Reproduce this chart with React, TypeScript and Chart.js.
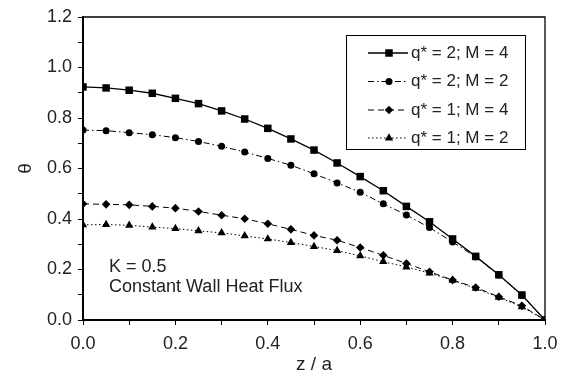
import React, { useEffect, useRef } from "react";
import { Chart, registerables } from "chart.js";

Chart.register(...registerables);

const zValues = [0, 0.05, 0.1, 0.15, 0.2, 0.25, 0.3, 0.35, 0.4, 0.45, 0.5, 0.55, 0.6, 0.65, 0.7, 0.75, 0.8, 0.85, 0.9, 0.95, 1.0];

const seriesQ2M4 = [0.923, 0.919, 0.910, 0.898, 0.878, 0.857, 0.828, 0.796, 0.759, 0.717, 0.673, 0.622, 0.568, 0.512, 0.450, 0.389, 0.321, 0.252, 0.179, 0.099, 0.0];
const seriesQ2M2 = [0.752, 0.750, 0.742, 0.734, 0.722, 0.707, 0.688, 0.665, 0.640, 0.613, 0.579, 0.543, 0.506, 0.460, 0.416, 0.366, 0.309, 0.250, 0.178, 0.097, 0.0];
const seriesQ1M4 = [0.460, 0.458, 0.456, 0.450, 0.443, 0.430, 0.415, 0.401, 0.381, 0.359, 0.335, 0.316, 0.287, 0.256, 0.224, 0.191, 0.158, 0.129, 0.092, 0.056, 0.0];
const seriesQ1M2 = [0.377, 0.378, 0.375, 0.368, 0.362, 0.353, 0.345, 0.333, 0.321, 0.307, 0.291, 0.275, 0.254, 0.231, 0.210, 0.186, 0.157, 0.125, 0.090, 0.052, 0.0];

const seriesLabels = ["q* = 2; M = 4", "q* = 2; M = 2", "q* = 1; M = 4", "q* = 1; M = 2"];
const xTickLabels = ["0.0", "0.2", "0.4", "0.6", "0.8", "1.0"];
const yTickLabels = ["0.0", "0.2", "0.4", "0.6", "0.8", "1.0", "1.2"];
const annotationLines = ["K = 0.5", "Constant Wall Heat Flux"];

const FONT = "'Liberation Sans', Arial, sans-serif";
const TEXT = "#222";

const styles = [
  { dash: [] as number[], point: "rect", radius: 5.3, width: 1.3 },
  { dash: [6, 3, 1.5, 3], point: "circle", radius: 3.5, width: 1 },
  { dash: [6, 4], point: "rectRot", radius: 4.3, width: 1 },
  { dash: [1.5, 2.5], point: "triangle", radius: 4.8, width: 1 },
];

function drawMarker(ctx: CanvasRenderingContext2D, kind: string, x: number, y: number, r: number) {
  ctx.beginPath();
  if (kind === "rect") {
    const s = Math.SQRT1_2 * r;
    ctx.rect(x - s, y - s, 2 * s, 2 * s);
  } else if (kind === "circle") {
    ctx.arc(x, y, r, 0, Math.PI * 2);
  } else if (kind === "rectRot") {
    ctx.moveTo(x, y - r);
    ctx.lineTo(x + r, y);
    ctx.lineTo(x, y + r);
    ctx.lineTo(x - r, y);
    ctx.closePath();
  } else {
    ctx.moveTo(x, y - r);
    ctx.lineTo(x + Math.sin((2 * Math.PI) / 3) * r, y + r / 2);
    ctx.lineTo(x - Math.sin((2 * Math.PI) / 3) * r, y + r / 2);
    ctx.closePath();
  }
  ctx.fill();
}

const framePlugin = {
  id: "frameAndLegend",
  afterDraw(chart: any) {
    const { ctx, chartArea } = chart;
    const { left, right, top, bottom } = chartArea;
    ctx.save();
    // top & right frame
    ctx.strokeStyle = "#000";
    ctx.lineWidth = 1.3;
    ctx.beginPath();
    ctx.moveTo(left, top);
    ctx.lineTo(right, top);
    ctx.lineTo(right, bottom);
    ctx.stroke();

    // legend box
    const bx = right - 20 - 179;
    const by = top + 18;
    const bw = 179;
    const bh = 114;
    ctx.fillStyle = "#fff";
    ctx.fillRect(bx, by, bw, bh);
    ctx.lineWidth = 1;
    ctx.strokeStyle = "#000";
    ctx.strokeRect(bx + 0.5, by + 0.5, bw, bh);
    const rowY = [53, 81.5, 110, 138];
    chart.data.datasets.forEach((ds: any, i: number) => {
      const st = styles[i];
      const y = rowY[i];
      ctx.strokeStyle = "#000";
      ctx.lineWidth = st.width;
      ctx.setLineDash(st.dash);
      ctx.beginPath();
      ctx.moveTo(bx + 22, y);
      ctx.lineTo(bx + 62, y);
      ctx.stroke();
      ctx.setLineDash([]);
      ctx.fillStyle = "#000";
      drawMarker(ctx, st.point, bx + 43, y, st.radius);
      ctx.fillStyle = TEXT;
      ctx.font = `17px ${FONT}`;
      ctx.textAlign = "left";
      ctx.textBaseline = "middle";
      ctx.fillText(ds.label, bx + 65, y);
    });

    // annotation
    ctx.fillStyle = TEXT;
    ctx.font = `18px ${FONT}`;
    ctx.textAlign = "left";
    ctx.textBaseline = "middle";
    ctx.fillText(annotationLines[0], left + 26, 267);
    ctx.fillText(annotationLines[1], left + 26, 287);
    ctx.restore();
  },
};

export default function App() {
  const ref = useRef<HTMLCanvasElement | null>(null);
  useEffect(() => {
    if (!ref.current) return;
    const data = [seriesQ2M4, seriesQ2M2, seriesQ1M4, seriesQ1M2];
    const chart = new Chart(ref.current, {
      type: "line",
      data: {
        datasets: data.map((vals, i) => ({
          label: seriesLabels[i],
          data: zValues.map((z, j) => ({ x: z, y: vals[j] })),
          borderColor: "#000",
          backgroundColor: "#000",
          borderWidth: styles[i].width,
          borderDash: styles[i].dash,
          pointStyle: styles[i].point as any,
          pointRadius: styles[i].radius,
          pointBackgroundColor: "#000",
          pointBorderColor: "#000",
          pointBorderWidth: 0,
          tension: 0,
          fill: false,
        })),
      },
      options: {
        animation: false,
        responsive: false,
        maintainAspectRatio: false,
        layout: { padding: { top: 17, right: 25, left: 0, bottom: 0 } },
        plugins: { legend: { display: false }, tooltip: { enabled: false } },
        scales: {
          x: {
            type: "linear",
            min: 0,
            max: 1,
            afterFit: (s: any) => { s.height = 58; },
            ticks: {
              stepSize: 0.1,
              autoSkip: false,
              maxRotation: 0,
              padding: 8,
              color: TEXT,
              font: { family: FONT, size: 18 },
              callback: (v: any) => {
                const k = Math.round(Number(v) * 10);
                return k % 2 === 0 ? xTickLabels[k / 2] : "";
              },
            },
            grid: { display: true, drawOnChartArea: false, drawTicks: true, tickLength: 5, color: "#000", lineWidth: 1 },
            border: { display: true, color: "#000", width: 2 },
            title: { display: true, text: "z / a", color: TEXT, font: { family: FONT, size: 19 }, padding: { top: 0, bottom: 2 } },
          },
          y: {
            type: "linear",
            min: 0,
            max: 1.2,
            afterFit: (s: any) => { s.width = 83; },
            ticks: {
              stepSize: 0.1,
              autoSkip: false,
              padding: 6,
              color: TEXT,
              font: { family: FONT, size: 18 },
              callback: (v: any) => {
                const k = Math.round(Number(v) * 10);
                return k % 2 === 0 ? yTickLabels[k / 2] : "";
              },
            },
            grid: { display: true, drawOnChartArea: false, drawTicks: true, tickLength: 5, color: "#000", lineWidth: 1 },
            border: { display: true, color: "#000", width: 2 },
            title: { display: true, text: "θ", color: TEXT, font: { family: FONT, size: 19 }, padding: { top: 14, bottom: 0 } },
          },
        },
      },
      plugins: [framePlugin],
    });
    return () => chart.destroy();
  }, []);
  return (
    <div style={{ position: "absolute", left: 0, top: 0, width: 570, height: 378, background: "#fff" }}>
      <canvas ref={ref} width={570} height={378} style={{ width: 570, height: 378 }} />
    </div>
  );
}
